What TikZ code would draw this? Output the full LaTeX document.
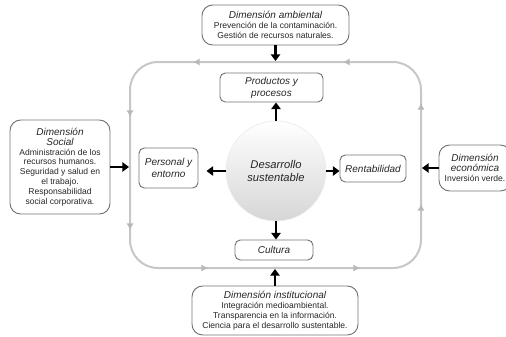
\documentclass[tikz,border=0pt]{standalone}
\usepackage{fontspec}
\setmainfont{Liberation Sans}
\usetikzlibrary{arrows.meta}

\tikzset{every picture/.style={line width=0.75pt}}
\tikzset{
  caja/.style={draw=black!55, line width=0.7pt, rounded corners=4pt, inner sep=0pt, align=center, text=black!85},
  dimension/.style={caja, rounded corners=8pt},
  ciclo/.style={draw=black!22, line width=1.5pt, rounded corners=21pt, inner sep=0pt},
  flecha/.style={line width=2pt, -{Triangle[length=5pt,width=7pt]}},
  puntagris/.style={draw=black!28, line width=1.5pt, -{Latex[length=5pt,width=5.5pt]}},
}
\newcommand{\titulo}{\fontsize{7.5}{9}\selectfont\itshape}
\newcommand{\cuerpo}{\fontsize{6.4}{7.4}\selectfont\upshape}

\begin{document}
\begin{tikzpicture}[x=0.75pt,y=0.75pt,yscale=-1,xscale=1]
\useasboundingbox (0,0) rectangle (506,336);

%Rounded Rect (cycle)
\node[ciclo, minimum width=218.25pt, minimum height=154.5pt] (ciclo) at (275.5,165) {};
%Straight Lines (cycle tips)
\draw[puntagris] (199,62) -- (193,62);
\draw[puntagris] (349,62) -- (343,62);
\draw[puntagris] (130,111) -- (130,117);
\draw[puntagris] (130,224) -- (130,230);
\draw[puntagris] (202,268) -- (208,268);
\draw[puntagris] (354,268) -- (360,268);
\draw[puntagris] (421,210) -- (421,204);
\draw[puntagris] (421,109) -- (421,103);

% Circle
\node[circle, inner sep=0pt, minimum size=75pt, draw=black!8, line width=0.5pt, top color=white, bottom color=black!16, align=center, text=black!85, font=\fontsize{8.4}{9.2}\selectfont\itshape] (centro) at (276,171)
  {Desarrollo\\ sustentable};

% Text Node
\node[caja, minimum width=77.25pt, minimum height=21.75pt, font=\titulo] (productos) at (271.5,87.5) {Productos y\\ procesos};
% Text Node
\node[caja, minimum width=44.25pt, minimum height=30pt, font=\titulo] (personal) at (168.5,168) {Personal y\\ entorno};
% Text Node
\node[caja, minimum width=49.5pt, minimum height=20.25pt, font=\titulo] (rentabilidad) at (373,168.5) {Rentabilidad};
% Text Node
\node[caja, minimum width=58.5pt, minimum height=15pt, font=\titulo] (cultura) at (274,250) {Cultura};

% Text Node
\node[dimension, minimum width=110.25pt, minimum height=30pt, font=\cuerpo] (ambiental) at (275.5,25)
  {\titulo Dimensión ambiental\\ Prevención de la contaminación.\\ Gestión de recursos naturales.};
% Text Node
\node[dimension, minimum width=75pt, minimum height=70.5pt, font=\cuerpo] (social) at (60,167)
  {\titulo Dimensión\\ \titulo Social\\ Administración de los\\ recursos humanos.\\ Seguridad y salud en\\ el trabajo.\\ Responsabilidad\\ social corporativa.};
% Text Node
\node[dimension, minimum width=54pt, minimum height=34.5pt, font=\cuerpo] (economica) at (475,168)
  {\titulo Dimensión\\ \titulo económica\\ Inversión verde.};
% Text Node
\node[dimension, minimum width=124.5pt, minimum height=36.75pt, font=\cuerpo] (institucional) at (275,310.5)
  {\titulo Dimensión institucional\\ Integración medioambiental.\\ Transparencia en la información.\\ Ciencia para el desarrollo sustentable.};

%Straight Lines (dimensions to cycle)
\draw[flecha] (ambiental.south) -- (ambiental.south |- ciclo.north);
\draw[flecha] (social.east) -- (social.east -| ciclo.west);
\draw[flecha] (economica.west) -- (economica.west -| ciclo.east);
\draw[flecha] (institucional.north) -- (institucional.north |- ciclo.south);
%Straight Lines (centre to boxes)
\draw[flecha] (centro.north) -- (centro.north |- productos.south);
\draw[flecha, shorten >=6pt] (centro.west) -- (centro.west -| personal.east);
\draw[flecha] (centro.east) -- (centro.east -| rentabilidad.west);
\draw[flecha] (centro.south) -- (centro.south |- cultura.north);

\end{tikzpicture}
\end{document}
